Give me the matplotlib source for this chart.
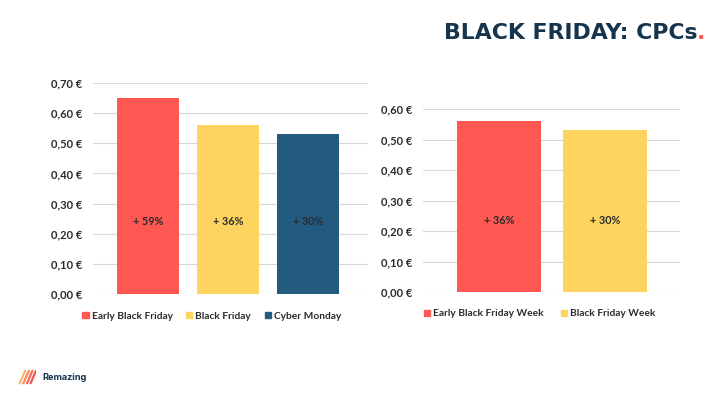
import numpy as np
import matplotlib.pyplot as plt
import matplotlib.patches as patches
from matplotlib.ticker import FuncFormatter

# Datos
left_labels = ["Early Black Friday", "Black Friday", "Cyber Monday"]
left_values = [0.65, 0.56, 0.53]
left_pct = ["+ 59%", "+ 36%", "+ 30%"]

right_labels = ["Early Black Friday Week", "Black Friday Week"]
right_values = [0.56, 0.53]
right_pct = ["+ 36%", "+ 30%"]

red = '#FF5852'
yellow = '#FDD45F'
blue = '#235B80'
navy = '#17344D'
text_col = '#2B2B2B'

plt.rcParams['font.family'] = ['Lato', 'DejaVu Sans']
plt.rcParams['font.weight'] = 'bold'

W, H = 720, 405
fig = plt.figure(figsize=(7.2, 4.05), dpi=100)


def px_axes(x0, x1, y_top, y_bot):
    return fig.add_axes([x0 / W, (H - y_bot) / H, (x1 - x0) / W, (y_bot - y_top) / H])


def euro(v, pos):
    return f"{v:.2f} €".replace('.', ',')


def draw_chart(ax, values, pcts, colors, ymax, xlim, width, label_y):
    x = np.arange(len(values))
    ax.bar(x, values, width=width, color=colors, zorder=3)
    for xi, p in zip(x, pcts):
        ax.text(xi, label_y, p, ha='center', va='center',
                fontsize=7.8, color=text_col, zorder=4)
    ax.set_ylim(0, ymax)
    ax.set_xlim(*xlim)
    ax.set_yticks(np.arange(0, ymax + 0.001, 0.1))
    ax.yaxis.set_major_formatter(FuncFormatter(euro))
    ax.grid(axis='y', color='#D9D9D9', lw=0.8, zorder=0)
    ax.set_xticks([])
    for s in ax.spines.values():
        s.set_visible(False)
    ax.tick_params(axis='y', length=0, pad=7.5, labelsize=8, labelcolor=text_col)
    return [patches.Patch(color=c) for c in colors]


axL = px_axes(93, 368, 83, 294)
hL = draw_chart(axL, left_values, left_pct, [red, yellow, blue], 0.70, (-0.69, 2.75), 0.78, 0.242)
axL.legend(hL, left_labels, loc='upper center', bbox_to_anchor=(0.432, -0.04), ncol=3,
           frameon=False, handlelength=0.6, handleheight=0.6, handletextpad=0.3,
           columnspacing=1.35, prop={'size': 7.3, 'weight': 'bold'}, labelcolor=text_col)

axR = px_axes(423, 680, 109, 292)
hR = draw_chart(axR, right_values, right_pct, [red, yellow], 0.60, (-0.72, 1.71), 0.79, 0.233)
axR.legend(hR, right_labels, loc='upper center', bbox_to_anchor=(0.455, -0.045), ncol=2,
           frameon=False, handlelength=0.6, handleheight=0.6, handletextpad=0.3,
           columnspacing=1.7, prop={'size': 7.3, 'weight': 'bold'}, labelcolor=text_col)

# Título
fig.text(697 / W, 1 - 39 / H, "BLACK FRIDAY: CPCs", ha='right', va='baseline',
         fontsize=15.8, fontweight='bold', color=navy, family=['DejaVu Sans'])
fig.text(697 / W, 1 - 39 / H, ".", ha='left', va='baseline', fontsize=15.8,
         fontweight='bold', color=red, family=['DejaVu Sans'])

# Logo
logo = fig.add_axes([18 / W, 1 - 386 / H, 18 / W, 18 / H])
logo.set_xlim(0, 1)
logo.set_ylim(0, 1)
logo.axis('off')
stripe_cols = ['#FDB36B', '#FB8A5E', '#F86A55', '#F2564F']
for i, c in enumerate(stripe_cols):
    x0 = 0.1 + i * 0.2
    logo.plot([x0, x0 + 0.3], [0.15, 0.85], color=c, lw=1.6, solid_capstyle='round')
fig.text(42 / W, 1 - 377 / H, "Remazing", ha='left', va='center', fontsize=6.6,
         fontweight='bold', color=navy, family=['Inter', 'DejaVu Sans'])

fig.savefig('out.png', dpi=100)
